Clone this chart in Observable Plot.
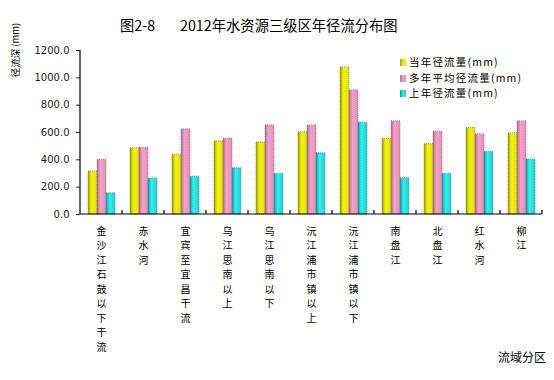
<!DOCTYPE html>
<html><head><meta charset="utf-8">
<script src="https://cdn.jsdelivr.net/npm/d3@7"></script>
<script src="https://cdn.jsdelivr.net/npm/@observablehq/plot@0.6"></script>
<style>
body{margin:0;background:#fff;}
#wrap{position:relative;width:554px;height:380px;overflow:hidden;font-family:"Noto Sans CJK SC","Noto Sans",sans-serif;background:#fff;}
#wrap svg{position:absolute;left:0;top:0;}
.t{position:absolute;white-space:nowrap;color:#000;}
.lg{position:absolute;left:400px;font-size:10.5px;line-height:15px;letter-spacing:1.2px;white-space:nowrap;}
.lg i{display:inline-block;width:6px;height:7px;margin-right:3px;vertical-align:0px;}
</style></head><body>
<div id="wrap">
  <div class="t" style="left:120px;top:15px;font-size:14.3px;line-height:20px">图2-8</div>
  <div class="t" style="left:180px;top:15px;font-size:14.3px;line-height:20px">2012年水资源三级区年径流分布图</div>
  <div class="t" style="left:15px;top:50px;font-size:9.5px;line-height:12px;transform:translate(-50%,-50%) rotate(-90deg);">径流深 (mm)</div>
  <div class="t" style="left:498px;top:349px;font-size:12px;line-height:16px">流域分区</div>
  <div id="legend"></div>
</div>
<script>
const categories = ["金沙江石鼓以下干流","赤水河","宜宾至宜昌干流","乌江思南以上","乌江思南以下","沅江浦市镇以上","沅江浦市镇以下","南盘江","北盘江","红水河","柳江"];
const seriesNames = ["当年径流量(mm)","多年平均径流量(mm)","上年径流量(mm)"];
const thisYear = [315, 485, 437, 535, 527, 602, 1076, 553, 514, 633, 594];
const avgYears = [400, 489, 623, 555, 652, 652, 908, 682, 606, 587, 682];
const lastYear = [155, 263, 277, 338, 297, 448, 672, 265, 297, 458, 402];
const yTicks = [0, 200, 400, 600, 800, 1000, 1200];

const seriesValues = [thisYear, avgYears, lastYear];
const data = [];
categories.forEach((c, i) => seriesNames.forEach((s, j) => data.push({cat: c, series: s, value: seriesValues[j][i]})));

const gradIds = ["gY", "gP", "gC"];
const gradStops = [
  ["#9a9a00", "#f4f400", "#e4e400"],
  ["#b06a8c", "#f4a2c8", "#e88cb8"],
  ["#009c9c", "#30f0f0", "#18d4d4"]
];

const axisLines = Plot.frame({
  facet: "super",
  render: (index, scales, values, dims) => {
    const {y, fx} = scales;
    const g = d3.create("svg:g").attr("stroke", "#000").attr("fill", "none").attr("stroke-width", 1.2);
    const left = dims.marginLeft, right = dims.width - dims.marginRight;
    const y0 = y(0), yTop = y(d3.max(yTicks));
    g.append("line").attr("x1", left).attr("x2", left).attr("y1", y0).attr("y2", yTop);
    g.append("line").attr("x1", left).attr("x2", right).attr("y1", y0).attr("y2", y0);
    const bw = typeof fx.bandwidth === "function" ? fx.bandwidth() : fx.bandwidth;
    for (const c of categories) {
      const xr = fx(c) + bw;
      g.append("line").attr("x1", xr).attr("x2", xr).attr("y1", y0).attr("y2", y0 - 4);
    }
    return g.node();
  }
});

const svg = Plot.plot({
  width: 554,
  height: 380,
  marginLeft: 75,
  marginRight: 8,
  marginTop: 50,
  marginBottom: 166,
  style: {fontFamily: "DejaVu Sans, sans-serif", fontSize: "10px", color: "#222", background: "transparent"},
  fx: {domain: categories, padding: 0, axis: null},
  x: {domain: seriesNames, paddingInner: 0, paddingOuter: 0.7, axis: null},
  y: {domain: [0, 1200], ticks: yTicks, tickFormat: d => d.toFixed(1), tickSize: 4, tickPadding: 7, label: null},
  color: {domain: seriesNames, range: gradIds.map(id => `url(#${id})`)},
  marks: [
    Plot.barY(data, {fx: "cat", x: "series", y: "value", fill: "series", stroke: "#7a7a7a", strokeWidth: 0.8, strokeDasharray: "1 1"}),
    Plot.text(categories, {fx: d => d, text: d => [...d].join("\n"), frameAnchor: "bottom", lineAnchor: "top", dy: 10, lineHeight: 1.45, fontSize: 10, fontFamily: "Noto Sans CJK SC", fill: "#000"}),
    axisLines
  ]
});

const defs = d3.create("svg:defs");
gradIds.forEach((id, k) => {
  const lg = defs.append("linearGradient").attr("id", id).attr("x1", "0").attr("x2", "1").attr("y1", "0").attr("y2", "0");
  lg.append("stop").attr("offset", "0%").attr("stop-color", gradStops[k][0]);
  lg.append("stop").attr("offset", "38%").attr("stop-color", gradStops[k][1]);
  lg.append("stop").attr("offset", "100%").attr("stop-color", gradStops[k][2]);
});
svg.insertBefore(defs.node(), svg.firstChild);
document.getElementById("wrap").appendChild(svg);

const legend = document.getElementById("legend");
const legendTops = [54, 69.5, 85];
seriesNames.forEach((s, k) => {
  const row = document.createElement("div");
  row.className = "lg";
  row.style.top = legendTops[k] + "px";
  row.innerHTML = `<i style="background:linear-gradient(to right, ${gradStops[k][0]}, ${gradStops[k][1]} 50%, ${gradStops[k][2]})"></i>${s}`;
  legend.appendChild(row);
});
</script>
</body></html>
